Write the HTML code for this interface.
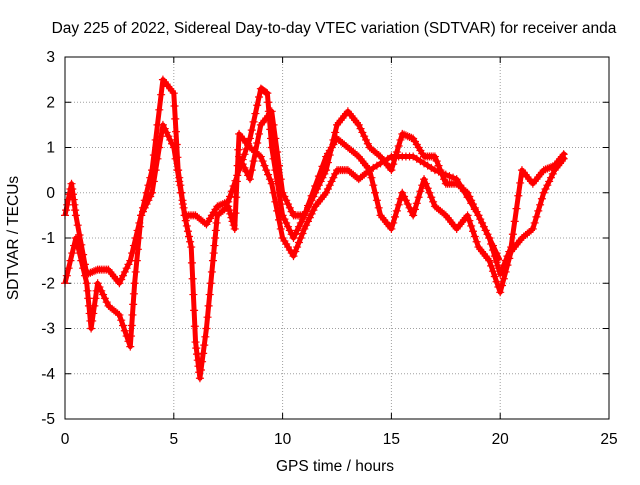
<!DOCTYPE html>
<html><head><meta charset="utf-8"><style>
body{margin:0;background:#fff;}
svg text{font-family:"Liberation Sans",sans-serif;font-size:15.5px;fill:#000;}
</style></head><body>
<svg id="chart" width="640" height="480" xmlns="http://www.w3.org/2000/svg">
<text x="334" y="33" text-anchor="middle">Day 225 of 2022, Sidereal Day-to-day VTEC variation (SDTVAR) for receiver anda</text>
<text x="335" y="471" text-anchor="middle">GPS time / hours</text>
<text transform="translate(18,238) rotate(-90)" text-anchor="middle">SDTVAR / TECUs</text>
<g id="grid"></g><g id="ticks"></g><g id="series"></g>
<rect x="65" y="57" width="544" height="362" fill="none" stroke="#000" stroke-width="1"/>
</svg>
<script>
const xTicks=[0,5,10,15,20,25];
const yTicks=[3,2,1,0,-1,-2,-3,-4,-5];
const seriesA=[[0,-0.5],[0.3,0.2],[0.5,-0.5],[1,-1.8],[1.5,-1.7],[2,-1.7],[2.5,-2],[3,-1.5],[3.5,-0.5],[4,0.5],[4.5,2.5],[5,2.2],[5.2,0.5],[5.5,-0.5],[6,-0.5],[6.5,-0.7],[7,-0.3],[7.5,-0.2],[8,0.5],[8.5,1.2],[9,2.3],[9.3,2.2],[9.5,1.0],[10,-0.5],[10.5,-1],[11,-0.5],[11.5,0],[12,0.5],[12.5,1.5],[13,1.8],[13.5,1.5],[14,1.0],[14.5,0.8],[15,0.5],[15.5,1.3],[16,1.2],[16.5,0.8],[17,0.8],[17.5,0.2],[18,0.2],[18.5,0],[19,-0.5],[19.5,-1],[20,-1.8],[20.5,-1.2],[21,0.5],[21.5,0.2],[22,0.5],[22.5,0.6],[23,0.9]];
const seriesB=[[0,-2],[0.5,-1],[1,-2],[1.2,-3],[1.5,-2],[2,-2.5],[2.5,-2.7],[3,-3.4],[3.2,-2],[3.5,-0.5],[4,0],[4.5,1.5],[5,1.0],[5.5,-0.5],[5.8,-1.2],[6,-3.3],[6.2,-4.1],[6.5,-3],[6.8,-1.5],[7,-0.5],[7.5,-0.3],[7.8,-0.8],[8,1.3],[8.5,1.0],[9,0.8],[9.5,0.2],[10,-1],[10.5,-1.4],[11,-0.8],[11.5,-0.3],[12,0],[12.5,0.5],[13,0.5],[13.5,0.3],[14,0.5],[14.5,-0.5],[15,-0.8],[15.5,0],[16,-0.5],[16.5,0.3],[17,-0.3],[17.5,-0.5],[18,-0.8],[18.5,-0.5],[19,-1.2],[19.5,-1.5],[20,-2.2],[20.5,-1.3],[21,-1],[21.5,-0.8],[22,0],[22.5,0.5],[23,0.8]];
const seriesC=[[8,0.8],[8.5,0.3],[9,1.5],[9.5,1.8],[10,0],[10.5,-0.5],[11,-0.5],[12,0.8],[12.5,1.2],[13,1.0],[13.5,0.8],[14,0.5],[15,0.8],[16,0.8],[17,0.5],[18,0.3],[19,-0.5],[20,-1.5]];
const X0=65,X1=609,Y0=419,Y1=57;
const xs=v=>X0+(v-0)/25*(X1-X0);
const ys=v=>Y0-(v+5)/8*(Y0-Y1);
const NS="http://www.w3.org/2000/svg";
function mk(t,a,p){const e=document.createElementNS(NS,t);for(const k in a)e.setAttribute(k,a[k]);p.appendChild(e);return e;}
const grid=document.getElementById('grid'),ticks=document.getElementById('ticks'),ser=document.getElementById('series');
xTicks.forEach(v=>{const x=xs(v);
 if(v>0&&v<25){const g=mk('line',{x1:x,x2:x,y1:Y0,y2:Y1,stroke:'#a0a0a0','stroke-dasharray':'1,2'},grid);
 
 }
 mk('line',{x1:x,x2:x,y1:Y0,y2:Y0-6,stroke:'#000'},ticks);mk('line',{x1:x,x2:x,y1:Y1,y2:Y1+6,stroke:'#000'},ticks);
 const t=mk('text',{x:x,y:444,'text-anchor':'middle'},ticks);t.textContent=v;
 
 });
yTicks.forEach(v=>{const y=ys(v);
 if(v>-5&&v<3){const g=mk('line',{x1:X0,x2:X1,y1:y,y2:y,stroke:'#a0a0a0','stroke-dasharray':'1,2'},grid);
 
 }
 mk('line',{x1:X0,x2:X0+6,y1:y,y2:y,stroke:'#000'},ticks);mk('line',{x1:X1,x2:X1-6,y1:y,y2:y,stroke:'#000'},ticks);
 const t=mk('text',{x:X0-10,y:y+5,'text-anchor':'end'},ticks);t.textContent=v;
 
 });
[[seriesA,'series-a'],[seriesB,'series-b'],[seriesC,'series-c']].forEach(([d,n])=>{
 const g=mk('g',{},ser);
 
 
 mk('polyline',{points:d.map(p=>xs(p[0])+','+ys(p[1])).join(' '),fill:'none',stroke:'#ff0000','stroke-width':5,'stroke-linejoin':'round'},g);
 for(let i=0;i<d.length-1;i++){for(let k=0;k<6;k++){const f=k/6;
  const x=xs(d[i][0]+(d[i+1][0]-d[i][0])*f),y=ys(d[i][1]+(d[i+1][1]-d[i][1])*f);
  mk('path',{d:`M${x-4},${y}h8M${x},${y-4}v8`,stroke:'#ff0000','stroke-width':1.2},g);}}
});
</script>
</body></html>
